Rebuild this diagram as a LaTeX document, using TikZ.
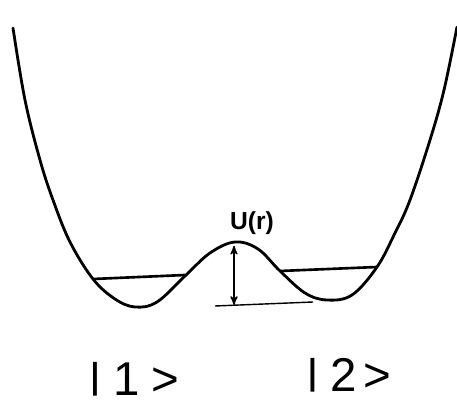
\documentclass[tikz,border=0pt]{standalone}
\usepackage{fontspec}
\usepackage{graphicx}
\setmainfont{Liberation Sans}
\usetikzlibrary{arrows, positioning}

\newcommand{\ketbar}{\raisebox{0.16em}{\scalebox{1}[0.76]{|}}}

\begin{document}
\begin{tikzpicture}[x=0.02cm, y=-0.02cm]
    \tikzstyle{curve}=[line width=1.6pt, line cap=round, line join=round]
    \tikzstyle{level}=[line width=1.5pt]
    \tikzstyle{base}=[line width=0.8pt]
    \tikzstyle{ket}=[font=\fontsize{27}{30}\selectfont, inner sep=0pt, anchor=base]

    \useasboundingbox (0, 0) rectangle (457, 405);

    % Double well
    \draw[curve] plot[smooth, tension=0.6] coordinates {
        (13, 28) (25, 100) (40, 160) (53, 200) (70, 242) (93, 279)
        (115, 299) (135, 307) (157, 302) (185, 276) (210, 253)
        (235, 242) (258, 249) (280, 271) (305, 293) (327, 300)
        (352, 295) (377, 267) (395, 233) (410, 200) (430, 140)
        (444, 90) (457, 27)};

    % Levels
    \coordinate (l_left1) at (93, 279);
    \coordinate (l_left2) at (185, 275);
    \coordinate (l_right1) at (280, 271);
    \coordinate (l_right2) at (377, 267);
    \draw[level] (l_left1) -- (l_left2);
    \draw[level] (l_right1) -- (l_right2);

    % Barrier height
    \coordinate (b_top) at (234, 244);
    \coordinate (b_bot) at (234, 305);
    \coordinate (b_end) at (313, 302);
    \coordinate (b_start) at (215, 306);
    \draw[base] (b_start) -- (b_end);
    \draw[base, <->, >=stealth', shorten <=1pt] (b_top) -- (b_bot);

    \node[font=\bfseries\fontsize{14}{16}\selectfont, inner sep=0pt] (u_label) at (252, 223) {U(r)};

    % States
    \node[ket] (ket1) at (134, 396) {\ketbar\hspace{0.25em}1\hspace{0.25em}>};
    \node[ket] (ket2) at (349, 392) {\ketbar\hspace{0.25em}2\hspace{0.15em}>};
\end{tikzpicture}
\end{document}
